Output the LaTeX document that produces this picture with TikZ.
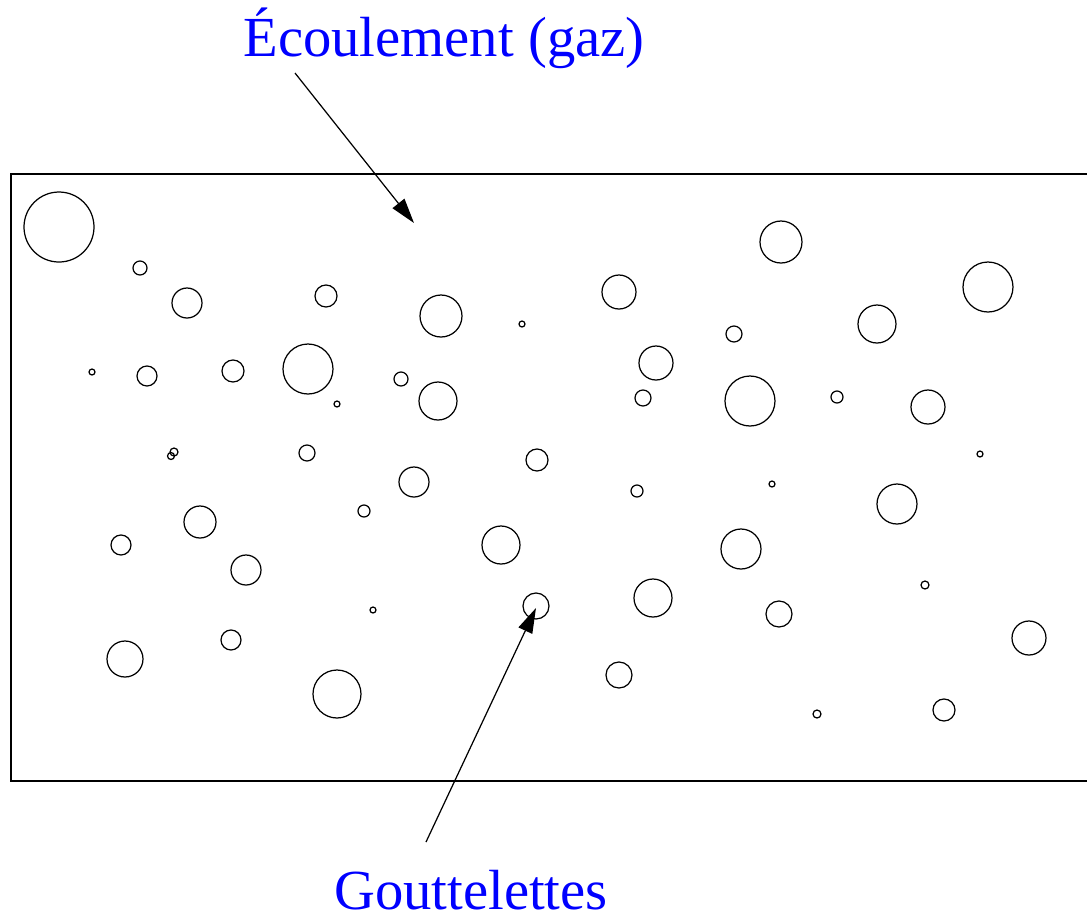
\documentclass[tikz,border=0pt]{standalone}
\usepackage{fontspec}
\setmainfont{Liberation Serif}
\usetikzlibrary{arrows.meta}
\tikzset{
  drop/.style={draw=black, line width=0.35pt},
  label/.style={text=blue, font=\fontsize{16.1}{19}\selectfont, inner sep=0pt, anchor=base},
  pointer/.style={draw=black, line width=0.35pt, -{Triangle[length=0.25cm,width=0.15cm]}}
}
\begin{document}
\begin{tikzpicture}[x=0.01cm,y=-0.01cm]
\useasboundingbox (0,0) rectangle (1087,917);
% channel
\draw[line width=0.4pt] (1087,174) -- (11,174) -- (11,781) -- (1087,781);
% droplets
\foreach \cx/\cy/\r in {
 59/227/35, 140/268/7, 187/303/15, 326/296/11, 441/316/21, 522/324/3,
 619/292/17, 781/242/21, 734/334/8, 877/324/19, 988/287/25,
 92/372/3, 147/376/10, 233/371/11, 308/369/25, 401/379/7, 337/404/3,
 438/401/19, 656/363/17, 643/398/8, 750/401/25, 837/397/6, 928/407/17,
 980/454/3, 174/452/4, 171/456/3.5, 307/453/8, 537/460/11, 414/482/15,
 637/491/6, 772/484/3, 897/504/20, 364/511/6, 200/522/16, 121/545/10,
 501/545/19, 741/549/20, 246/570/15, 373/610/3, 536/606/13, 653/598/19,
 779/614/13, 925/585/4, 1029/638/17, 125/659/18, 231/640/10, 337/694/24,
 619/675/13, 817/714/4, 944/710/11}
 \draw[drop] (\cx,\cy) circle[radius=\r];
% labels
\node[label] (flow) at (444,56) {Écoulement (gaz)};
\node[label, text depth=0pt] (drops) at (471,909) {Gouttelettes};
\coordinate (flowstart) at (295,73);
\coordinate (flowtip) at (414,223);
\coordinate (dropstart) at (426,842);
\coordinate (droptip) at (536,608);
\draw[pointer] (flowstart) -- (flowtip);
\draw[pointer] (dropstart) -- (droptip);
\end{tikzpicture}
\end{document}
